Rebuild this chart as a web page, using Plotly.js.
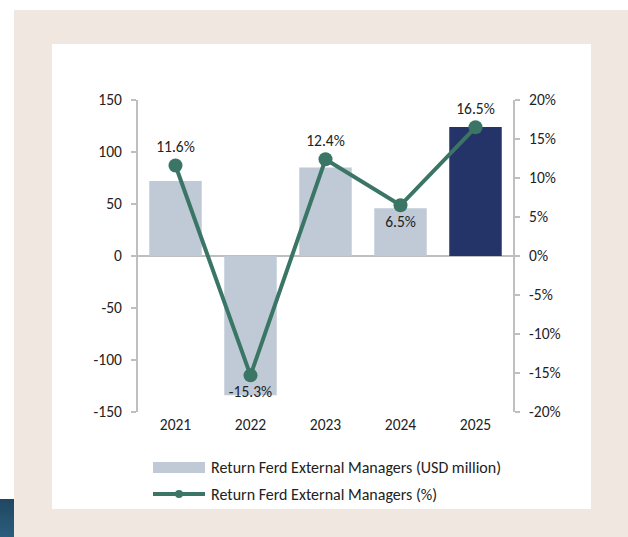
<!DOCTYPE html>
<html>
<head>
<meta charset="utf-8">
<script src="https://cdn.plot.ly/plotly-3.0.1.min.js"></script>
<style>
html,body{margin:0;padding:0;background:#fff;}
#wrap{position:relative;width:628px;height:537px;overflow:hidden;}
#beige{position:absolute;left:14px;top:10px;width:614px;height:527px;background:#f0e7e1;}
#panel{position:absolute;left:52px;top:44px;width:539px;height:465px;background:#ffffff;}
#patch{position:absolute;left:0;top:499px;width:14px;height:38px;background:linear-gradient(#1f4762,#2b5d7c);}
#chart{position:absolute;left:0;top:0;width:628px;height:537px;}
</style>
</head>
<body>
<div id="wrap">
<div id="beige"></div>
<div id="panel"></div>
<div id="patch"></div>
<div id="chart"></div>
</div>
<script>
const years = ['2021','2022','2023','2024','2025'];
const returnUsd = [72, -134, 85, 46, 124];
const returnPct = [11.6, -15.3, 12.4, 6.5, 16.5];
const leftTickVals = [-150, -100, -50, 0, 50, 100, 150];
const leftTickText = ['-150','-100','-50','0','50','100','150'];
const rightTickVals = [-20, -15, -10, -5, 0, 5, 10, 15, 20];
const rightTickText = ['-20%','-15%','-10%','-5%','0%','5%','10%','15%','20%'];
const labelPos = ['top center','bottom center','top center','bottom center','top center'];
const barColors = ['#bfcad6','#bfcad6','#bfcad6','#bfcad6','#243468'];
const legendNames = ['Return Ferd External Managers (USD million)','Return Ferd External Managers (%)'];

const FONT = 'Carlito, Lato, "Open Sans", sans-serif';
const L = 138, R = 513, T = 100, B = 412;
const px = x => (x - L) / (R - L);
const py = y => (B - y) / (B - T);

const traces = [
  {type:'bar', x: years, y: returnUsd, marker:{color: barColors}, name: legendNames[0], hoverinfo:'skip', showlegend:false},
  {type:'scatter', mode:'lines+markers+text', x: years, y: returnPct, yaxis:'y2', name: legendNames[1],
   line:{color:'#3b7566', width:4}, marker:{color:'#3b7566', size:14},
   text: returnPct.map(v => v.toFixed(1) + '%'), textposition: labelPos,
   textfont:{family:FONT, size:15.5, color:'#222'}, cliponaxis:false, showlegend:false}
];

const gray = '#bfbfbf';
const layout = {
  width:628, height:537,
  margin:{l:L, r:628-R, t:T, b:537-B},
  paper_bgcolor:'rgba(0,0,0,0)', plot_bgcolor:'rgba(0,0,0,0)',
  font:{family:FONT, size:15.5, color:'#222'},
  bargap:0.3,
  showlegend:false,
  xaxis:{type:'category', showline:false, showgrid:false, zeroline:false, ticks:'', ticklabelstandoff:1,
         tickfont:{size:15.5}},
  yaxis:{range:[-150,150], tickvals:leftTickVals, ticktext:leftTickText, showgrid:false, zeroline:true, zerolinecolor:gray, zerolinewidth:2,
         showline:true, linecolor:gray, linewidth:2, ticks:'outside', ticklen:5, tickcolor:gray, tickwidth:1.5,
         ticklabelstandoff:6, tickfont:{size:15.5}},
  yaxis2:{range:[-20,20], tickvals:rightTickVals, ticktext:rightTickText, overlaying:'y', side:'right', showgrid:false, zeroline:false,
          showline:true, linecolor:gray, linewidth:2, ticks:'outside', ticklen:5, tickcolor:gray, tickwidth:1.5,
          ticklabelstandoff:6, tickfont:{size:15.5}},
  shapes:[
    {type:'rect', xref:'paper', yref:'paper', x0:px(153), x1:px(205), y0:py(473), y1:py(462),
     fillcolor:'#bfcad6', line:{width:0}},
    {type:'line', xref:'paper', yref:'paper', x0:px(153), x1:px(205), y0:py(494), y1:py(494),
     line:{color:'#3b7566', width:4}},
    {type:'circle', xref:'paper', yref:'paper', x0:px(175), x1:px(183), y0:py(498), y1:py(490),
     fillcolor:'#3b7566', line:{width:0}}
  ],
  annotations:[
    {xref:'paper', yref:'paper', x:px(209), y:py(467), xanchor:'left', yanchor:'middle', showarrow:false,
     text: legendNames[0], font:{size:16, color:'#222'}},
    {xref:'paper', yref:'paper', x:px(209), y:py(494), xanchor:'left', yanchor:'middle', showarrow:false,
     text: legendNames[1], font:{size:16, color:'#222'}}
  ]
};

Plotly.newPlot('chart', traces, layout, {displayModeBar:false, staticPlot:true});
</script>
</body>
</html>
